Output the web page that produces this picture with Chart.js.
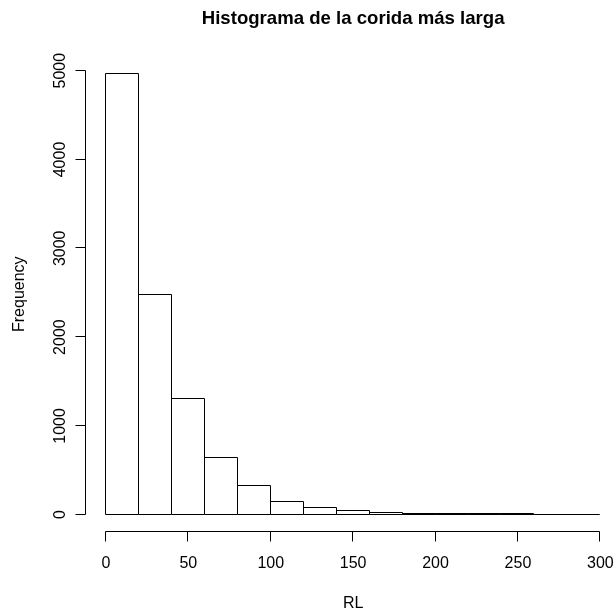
<!DOCTYPE html>
<html>
<head>
<meta charset="utf-8">
<script src="https://cdn.jsdelivr.net/npm/chart.js@4/dist/chart.umd.min.js"></script>
<style>
  html, body { margin: 0; padding: 0; overflow: hidden; background: #fff; }
  #wrap { width: 631px; height: 609px; }
</style>
</head>
<body>
<div id="wrap"><canvas id="hist" width="631" height="609"></canvas></div>
<script>
'use strict';

// Histogram data: bin starts (width 20) and counts
const binStarts = [0, 20, 40, 60, 80, 100, 120, 140, 160, 180, 200, 220, 240, 260, 280];
const counts    = [4966, 2471, 1306, 635, 320, 140, 72, 42, 16, 8, 4, 3, 2, 0, 1];
const binWidth  = 20;

const xTicks = [0, 50, 100, 150, 200, 250, 300];
const yTicks = [0, 1000, 2000, 3000, 4000, 5000];

const TITLE  = 'Histograma de la corida más larga';
const XLABEL = 'RL';
const YLABEL = 'Frequency';

const FONT = '"Liberation Sans", Arial, Helvetica, sans-serif';

// R-style 4% range extension
const xMin = -12, xMax = 312;
const yMin = -198.6, yMax = 5164.6;

const crisp = v => Math.round(v) - 0.5;

/* ── bar outlines (drawn crisp like base R rect()) ───────────── */
const outlinePlugin = {
  id: 'outline',
  afterDatasetsDraw(chart) {
    const ctx = chart.ctx;
    const meta = chart.getDatasetMeta(0);
    ctx.save();
    ctx.strokeStyle = '#000';
    ctx.lineWidth = 1;
    meta.data.forEach(el => {
      const { x, y, base, width } = el.getProps(['x', 'y', 'base', 'width'], true);
      const l = crisp(x - width / 2), r = crisp(x + width / 2);
      const t = crisp(y), b = crisp(base);
      ctx.beginPath();
      ctx.moveTo(l, b);
      ctx.lineTo(l, t);
      ctx.lineTo(r, t);
      ctx.lineTo(r, b);
      ctx.closePath();
      ctx.stroke();
    });
    ctx.restore();
  },
};

/* ── axes, tick labels and titles ────────────────────────────── */
const axesPlugin = {
  id: 'rAxes',
  afterDraw(chart) {
    const ctx = chart.ctx;
    const area = chart.chartArea;
    const xs = chart.scales.x, ys = chart.scales.y;
    const tick = 10;
    ctx.save();
    ctx.strokeStyle = '#000';
    ctx.fillStyle = '#000';
    ctx.lineWidth = 1;

    // x axis
    const ay = crisp(area.bottom);
    ctx.beginPath();
    ctx.moveTo(crisp(xs.getPixelForValue(xTicks[0])), ay);
    ctx.lineTo(crisp(xs.getPixelForValue(xTicks[xTicks.length - 1])), ay);
    xTicks.forEach(v => {
      const px = crisp(xs.getPixelForValue(v));
      ctx.moveTo(px, ay);
      ctx.lineTo(px, ay + tick);
    });
    ctx.stroke();
    ctx.font = `16px ${FONT}`;
    ctx.textAlign = 'center';
    ctx.textBaseline = 'alphabetic';
    xTicks.forEach(v => ctx.fillText(String(v), xs.getPixelForValue(v), 567.5));

    // y axis
    const ax = crisp(area.left);
    ctx.beginPath();
    ctx.moveTo(ax, crisp(ys.getPixelForValue(yTicks[0])));
    ctx.lineTo(ax, crisp(ys.getPixelForValue(yTicks[yTicks.length - 1])));
    yTicks.forEach(v => {
      const py = crisp(ys.getPixelForValue(v));
      ctx.moveTo(ax, py);
      ctx.lineTo(ax - tick, py);
    });
    ctx.stroke();
    yTicks.forEach(v => {
      ctx.save();
      ctx.translate(64.5, ys.getPixelForValue(v));
      ctx.rotate(-Math.PI / 2);
      ctx.fillText(String(v), 0, 0);
      ctx.restore();
    });

    // axis titles
    const cx = (area.left + area.right) / 2;
    const cy = (area.top + area.bottom) / 2;
    ctx.fillText(XLABEL, cx, 607.5);
    ctx.save();
    ctx.translate(24, cy);
    ctx.rotate(-Math.PI / 2);
    ctx.fillText(YLABEL, 0, 0);
    ctx.restore();

    // main title
    ctx.font = `bold 18.6px ${FONT}`;
    ctx.fillText(TITLE, cx, 24);
    ctx.restore();
  },
};

new Chart(document.getElementById('hist'), {
  type: 'bar',
  data: {
    datasets: [{
      data: binStarts.map((s, i) => ({ x: s + binWidth / 2, y: counts[i] })),
      backgroundColor: '#fff',
      borderWidth: 0,
      barPercentage: 1,
      categoryPercentage: 1,
    }],
  },
  options: {
    responsive: false,
    animation: false,
    devicePixelRatio: 1,
    layout: { padding: { left: 86.2, right: 631 - 620.1, top: 56.1, bottom: 609 - 532.3 } },
    plugins: { legend: { display: false }, tooltip: { enabled: false }, title: { display: false } },
    scales: {
      x: { type: 'linear', min: xMin, max: xMax, offset: false, display: false },
      y: { type: 'linear', min: yMin, max: yMax, display: false },
    },
  },
  plugins: [outlinePlugin, axesPlugin],
});
</script>
</body>
</html>
